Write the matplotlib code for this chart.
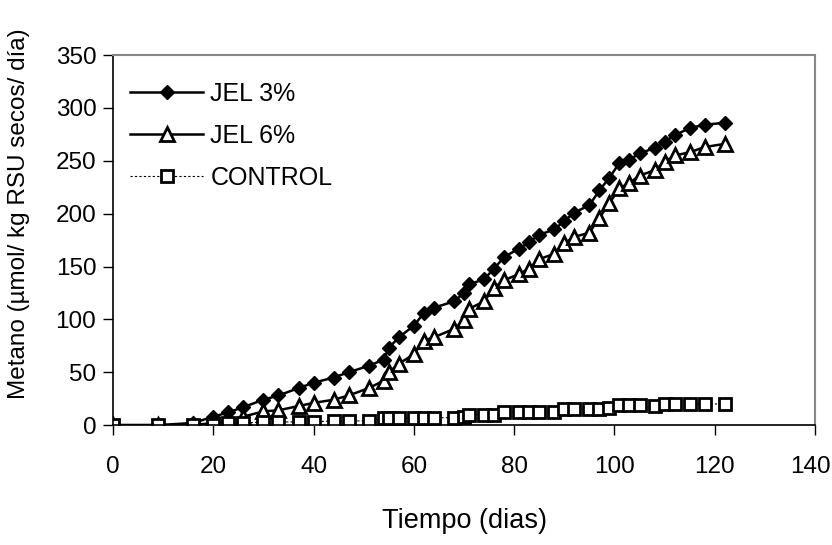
import matplotlib.pyplot as plt
from matplotlib.transforms import ScaledTranslation

# sampling days
dias = [0, 9, 16, 20, 23, 26, 30, 33, 37, 40, 44, 47, 51, 54, 55, 57, 60, 62,
        64, 68, 70, 71, 74, 76, 78, 81, 83, 85, 88, 90, 92, 95, 97, 99, 101,
        103, 105, 108, 110, 112, 115, 118, 122]

# accumulated methane, umol / kg dry MSW / day
jel3 = [0, 0, 2, 8, 12, 17, 24, 28, 35, 40, 45, 50, 56, 62, 73, 83, 94, 106,
        111, 117, 125, 133, 138, 148, 159, 167, 173, 180, 185, 193, 201, 208,
        222, 234, 248, 251, 257, 262, 268, 274, 281, 284, 286]
jel6 = [0, 0, 0, 2, 4, 8, 13, 14, 18, 21, 24, 28, 35, 42, 50, 58, 67, 80,
        83, 91, 99, 110, 117, 130, 137, 143, 148, 157, 162, 172, 178, 182,
        196, 210, 224, 229, 236, 241, 249, 255, 258, 263, 266]
control = [0, 0, 0, 0, 2, 2, 3, 3, 3, 3, 4, 4, 4, 7, 7, 7, 7, 7, 7, 7, 8, 10,
           10, 10, 12, 12, 12, 12, 12, 15, 15, 15, 15, 16, 19, 19, 19, 18, 20,
           20, 20, 20, 20]

xticks = [0, 20, 40, 60, 80, 100, 120, 140]
yticks = [0, 50, 100, 150, 200, 250, 300, 350]

plt.rcParams['font.family'] = ['Liberation Sans', 'DejaVu Sans']

fig = plt.figure(figsize=(8.32, 5.45), dpi=100)
ax = fig.add_axes([0.1358, 0.22, 0.8438, 0.679])

ax.plot(dias, jel3, color='k', lw=1.8, marker='D', ms=7.5,
        mfc='k', mec='k', label='JEL 3%')
ax.plot(dias, jel6, color='k', lw=1.8, marker='^', ms=9.5,
        mfc='white', mec='k', mew=2, label='JEL 6%')
ax.plot(dias, control, color='k', lw=0.8, ls=(0, (2, 2)), marker='s', ms=8.5,
        mfc='white', mec='k', mew=2, label='CONTROL')

ax.set_xlim(0, 140)
ax.set_ylim(0, 350)
ax.set_xticks(xticks)
ax.set_yticks(yticks)
ax.tick_params(axis='both', labelsize=17.5, length=7, width=1, direction='out',
               pad=15)
ax.tick_params(axis='y', pad=5)

# keep the last x label inside the figure
last = ax.get_xticklabels()[-1]
last.set_transform(last.get_transform() +
                   ScaledTranslation(-5 / 100, 0, fig.dpi_scale_trans))

for s in ['top', 'right']:
    ax.spines[s].set_color('#888888')
    ax.spines[s].set_linewidth(1.5)
for s in ['left', 'bottom']:
    ax.spines[s].set_color('k')
    ax.spines[s].set_linewidth(1.2)

ax.set_xlabel('Tiempo (dias)', fontsize=19.5, labelpad=22)
ax.set_ylabel('Metano (µmol/ kg RSU secos/ día)', fontsize=17.5)
ax.yaxis.set_label_coords(-0.118, 0.57)

ax.legend(loc='upper left', frameon=False, fontsize=18,
          handlelength=2.9, handletextpad=0.3, labelspacing=0.72,
          borderaxespad=0.3, bbox_to_anchor=(0.0, 0.975))

fig.savefig('out.png', dpi=100)
